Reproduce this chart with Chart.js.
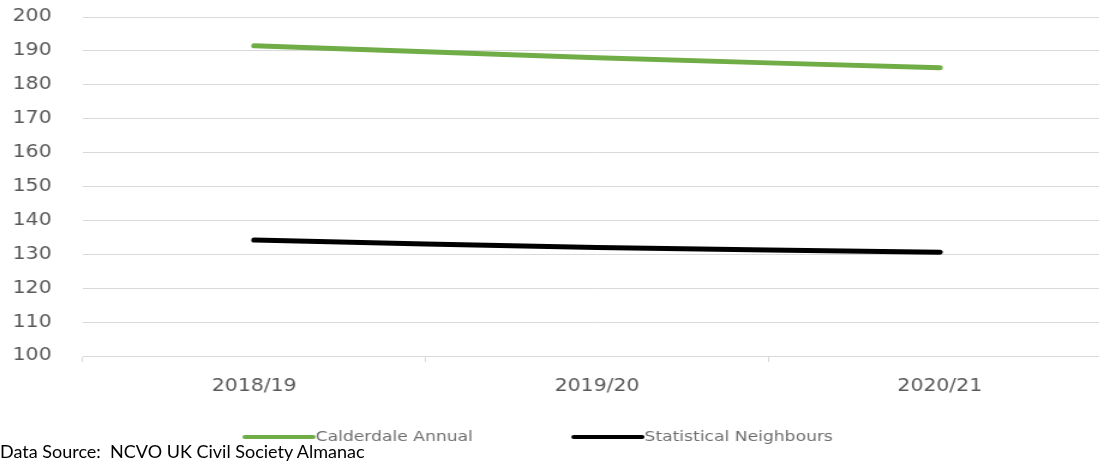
<!DOCTYPE html>
<html>
<head>
<meta charset="utf-8">
<script src="https://cdn.jsdelivr.net/npm/chart.js@4/dist/chart.umd.min.js"></script>
<style>
  html, body { margin: 0; padding: 0; background: #fff; overflow: hidden; width: 1099px; height: 462px; }
  /* the chart is drawn on a narrower canvas and widened, giving the stretched lettering */
  #wrap { position: absolute; left: 0; top: 0; width: 927px; height: 462px; transform: scaleX(1.2); transform-origin: 0 0; }
  #source { position: absolute; left: 0; top: 441px; font-family: Lato, "Liberation Sans", sans-serif; font-size: 18px; line-height: 20px; color: #000; white-space: pre; }
</style>
</head>
<body>
<div id="wrap"><canvas id="c" width="927" height="462"></canvas></div>
<div id="source">Data Source:  NCVO UK Civil Society Almanac</div>
<script>
// Financial years on the category axis
const years = ['2018/19', '2019/20', '2020/21'];

// Series values
const calderdaleAnnual = [191.5, 188, 185];
const statisticalNeighbours = [134.2, 132, 130.6];

// Value axis range and step
const yMin = 100;
const yMax = 200;
const yStep = 10;

const seriesNames = ['Calderdale Annual', 'Statistical Neighbours'];
const seriesColors = ['#70ad47', '#000000'];

// Legend drawn as thick line strokes followed directly by the series name
const lineLegend = {
  id: 'lineLegend',
  afterDraw(chart, args, opts) {
    const ctx = chart.ctx;
    ctx.save();
    ctx.font = opts.size + 'px "DejaVu Sans"';
    ctx.textBaseline = 'middle';
    ctx.textAlign = 'left';
    let x = opts.x;
    chart.data.datasets.forEach(ds => {
      ctx.strokeStyle = ds.borderColor;
      ctx.lineWidth = opts.thickness;
      ctx.lineCap = 'round';
      ctx.beginPath();
      ctx.moveTo(x, opts.y);
      ctx.lineTo(x + opts.length, opts.y);
      ctx.stroke();
      x += opts.length + 2;
      ctx.fillStyle = opts.color;
      ctx.fillText(ds.label, x, opts.y);
      x += ctx.measureText(ds.label).width + opts.gap;
    });
    ctx.restore();
  }
};

new Chart(document.getElementById('c'), {
  type: 'line',
  data: {
    labels: years,
    datasets: [
      {
        label: seriesNames[0],
        data: calderdaleAnnual,
        borderColor: seriesColors[0],
        backgroundColor: seriesColors[0],
        borderWidth: 5,
        borderCapStyle: 'round',
        pointRadius: 0,
        tension: 0.35,
        fill: false
      },
      {
        label: seriesNames[1],
        data: statisticalNeighbours,
        borderColor: seriesColors[1],
        backgroundColor: seriesColors[1],
        borderWidth: 5,
        borderCapStyle: 'round',
        pointRadius: 0,
        tension: 0.35,
        fill: false
      }
    ]
  },
  options: {
    responsive: false,
    animation: false,
    devicePixelRatio: 1,
    layout: { padding: { top: 17, right: 1, bottom: 0, left: 0 } },
    plugins: {
      legend: { display: false },
      tooltip: { enabled: false },
      lineLegend: { x: 204, y: 437, length: 57, thickness: 4, gap: 84, size: 14.3, color: '#6f6f6f' }
    },
    scales: {
      x: {
        offset: true,
        grid: {
          offset: true,
          drawOnChartArea: false,
          drawTicks: true,
          tickLength: 6,
          color: '#d9d9d9'
        },
        border: { display: true, color: '#d9d9d9', width: 1 },
        ticks: {
          color: '#595959',
          font: { family: 'DejaVu Sans', size: 17 },
          padding: 14,
          maxRotation: 0
        },
        afterFit(axis) { axis.height = 106; }
      },
      y: {
        min: yMin,
        max: yMax,
        grid: { color: '#d9d9d9', drawTicks: false, lineWidth: 1 },
        border: { display: false },
        ticks: {
          stepSize: yStep,
          color: '#595959',
          font: { family: 'DejaVu Sans', size: 17 },
          padding: 26
        },
        afterFit(axis) {
          axis.width = 69;
          axis.paddingTop = 0;
          axis.paddingBottom = 0;
        }
      }
    }
  },
  plugins: [lineLegend]
});
</script>
</body>
</html>
